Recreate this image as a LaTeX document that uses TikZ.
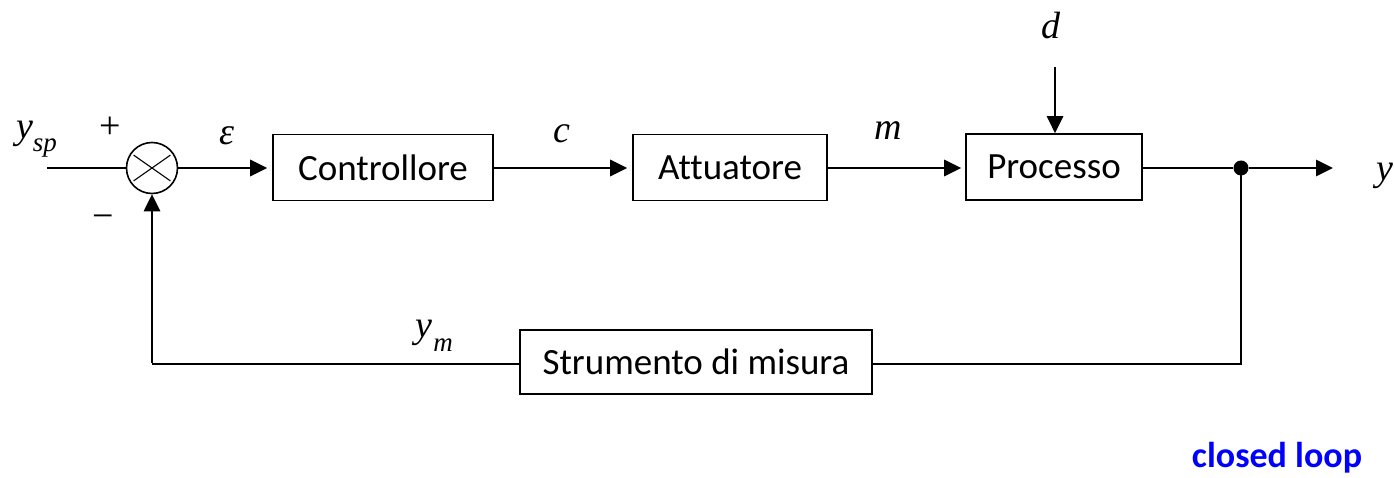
\documentclass[tikz,border=0pt]{standalone}
\usepackage{fontspec}
\setmainfont{Liberation Serif}
\newfontfamily\boxfont[Ligatures=NoCommon]{Carlito}
\usetikzlibrary{arrows.meta}
\begin{document}
\begin{tikzpicture}[x=1pt,y=-1pt,
  blk/.style={draw,line width=1.6pt,inner sep=0pt,font=\boxfont\fontsize{37}{42}\selectfont},
  sig/.style={line width=2.8pt},
  arr/.style={sig,-{Triangle[length=17pt,width=16pt]}},
  lbl/.style={anchor=base,inner sep=0pt,font=\fontsize{38}{42}\selectfont\itshape},
  sgn/.style={inner sep=0pt,font=\fontsize{38}{42}\selectfont}]
\useasboundingbox (0,0) rectangle (1394,478);
% blocks
\node[blk,minimum width=220pt,minimum height=66pt] (ctrl) at (383,167.5) {Controllore};
\node[blk,minimum width=194pt,minimum height=66pt] (att) at (730,167.5) {Attuatore};
\node[blk,minimum width=176pt,minimum height=66pt] (proc) at (1054,167) {Processo};
\node[blk,minimum width=352pt,minimum height=64pt] (meas) at (696,362) {Strumento di misura};
% summing junction
\node[draw,circle,line width=1.6pt,minimum size=51pt,inner sep=0pt] (sum) at (152,168) {};
\draw[line width=1.1pt] (sum.center) ++(145:22.5) -- ++(-35:45);
\draw[line width=1.1pt] (sum.center) ++(215:22.5) -- ++(35:45);
% coordinates
\coordinate (in) at (47,168);
\coordinate (dtop) at (1055,67);
\coordinate (out) at (1333,168);
\node[circle,fill,inner sep=0pt,minimum size=15pt] (br) at (1241,168) {};
\coordinate (brdown) at (1241,364);
\coordinate (fbcorner) at (152,364);
% connectors
\draw[sig] (in) -- (sum.west);
\draw[arr,shorten >=5pt] (sum.east) -- (ctrl.west |- sum.east);
\draw[arr,shorten >=5pt] (ctrl.east |- sum.east) -- (att.west |- sum.east);
\draw[arr,shorten >=4pt] (att.east |- sum.east) -- (proc.west |- sum.east);
\draw[arr] (dtop) -- (proc.north -| dtop);
\draw[sig] (proc.east |- br) -- (br);
\draw[arr] (br) -- (out);
\draw[sig] (br.center) -- ([yshift=-0.6pt]brdown);
\draw[line width=1.6pt] (brdown) -- (meas.east |- brdown);
\draw[line width=1.6pt] (meas.west |- fbcorner) -- (fbcorner);
\draw[arr] ([yshift=0.6pt]fbcorner) -- (sum.south);
% labels
\node[lbl] (lysp) at (25,139) {y};
\node[lbl,font=\fontsize{27}{30}\selectfont\itshape] (lsp) at (45,152) {sp};
\node[sgn] (lplus) at (110,128) {+};
\node[sgn] (lminus) at (103,222) {−};
\node[lbl] (leps) at (227,145) {ε};
\node[lbl] (lc) at (562,143) {c};
\node[lbl] (lm) at (888,140) {m};
\node[lbl] (ld) at (1051,39) {d};
\node[lbl] (ly) at (1385,181) {y};
\node[lbl] (lym) at (424,337) {y};
\node[lbl,font=\fontsize{27}{30}\selectfont\itshape] (lmm) at (443,351) {m};
\node[anchor=base,inner sep=0pt,text=blue,font=\boxfont\bfseries\fontsize{36}{40}\selectfont] (cl) at (1277,467) {closed loop};
\end{tikzpicture}
\end{document}
